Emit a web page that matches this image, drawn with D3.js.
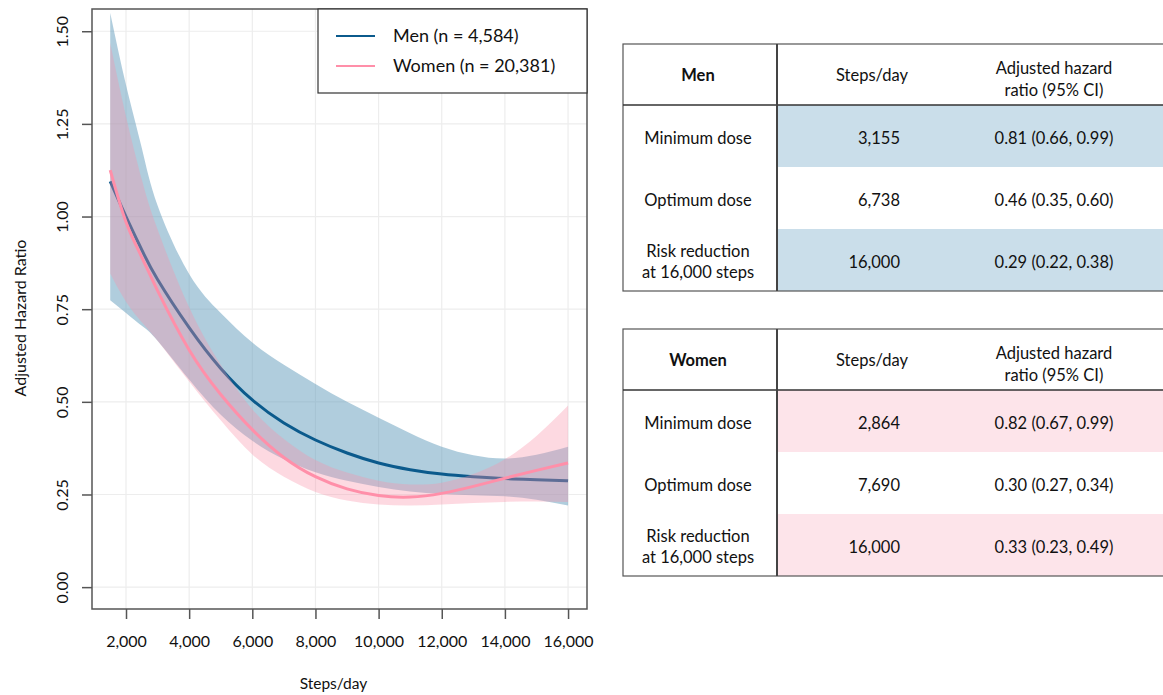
<!DOCTYPE html>
<html lang="en">
<head>
  <meta charset="UTF-8">
  <title>Steps/day and adjusted hazard ratio</title>
  <script src="https://d3js.org/d3.v7.min.js"></script>
  <style>
    body {
      margin: 0;
      padding: 0;
      background: #fff;
      font-family: Lato, "Open Sans", sans-serif;
    }
    svg text {
      fill: #111;
    }
  </style>
</head>
<body>
  <div id="chart"></div>

  <script>
    // curve data
    const steps = [1500, 2000, 2500, 3000, 4000, 5000, 6000, 7000, 8000, 9000, 10000, 11000, 12000, 13000, 14000, 15000, 16000];
    const menHR = [1.095, 1.000, 0.91, 0.83, 0.70, 0.59, 0.505, 0.443, 0.397, 0.362, 0.335, 0.317, 0.305, 0.298, 0.293, 0.290, 0.287];
    const menLower = [0.774, 0.74, 0.705, 0.665, 0.56, 0.465, 0.395, 0.345, 0.31, 0.287, 0.27, 0.258, 0.251, 0.248, 0.245, 0.236, 0.22];
    const menUpper = [1.549, 1.355, 1.185, 1.03, 0.845, 0.74, 0.66, 0.60, 0.548, 0.50, 0.457, 0.415, 0.379, 0.356, 0.347, 0.357, 0.379];
    const womenHR = [1.125, 0.985, 0.89, 0.80, 0.64, 0.52, 0.425, 0.35, 0.298, 0.265, 0.247, 0.243, 0.253, 0.272, 0.294, 0.315, 0.335];
    const womenLower = [0.846, 0.77, 0.715, 0.665, 0.555, 0.45, 0.358, 0.298, 0.257, 0.234, 0.223, 0.22, 0.223, 0.227, 0.23, 0.231, 0.23];
    const womenUpper = [1.468, 1.27, 1.10, 0.965, 0.755, 0.60, 0.48, 0.40, 0.343, 0.309, 0.287, 0.277, 0.282, 0.305, 0.345, 0.408, 0.49];

    const xTicks = [2000, 4000, 6000, 8000, 10000, 12000, 14000, 16000];
    const yTicks = [0, 0.25, 0.5, 0.75, 1.0, 1.25, 1.5];
    const legendLabels = ["Men (n = 4,584)", "Women (n = 20,381)"];

    // table data
    const rowLabels = [["Minimum dose"], ["Optimum dose"], ["Risk reduction", "at 16,000 steps"]];
    const menSteps = ["3,155", "6,738", "16,000"];
    const menAHR = ["0.81 (0.66, 0.99)", "0.46 (0.35, 0.60)", "0.29 (0.22, 0.38)"];
    const womenSteps = ["2,864", "7,690", "16,000"];
    const womenAHR = ["0.82 (0.67, 0.99)", "0.30 (0.27, 0.34)", "0.33 (0.23, 0.49)"];

    const width = 1163;
    const height = 695;
    const box = { left: 92, right: 587, top: 9, bottom: 609 };

    const blue = "#0b5a8c";
    const pink = "#ff8fa9";

    const svg = d3.select("#chart")
      .append("svg")
      .attr("width", width)
      .attr("height", height);

    const x = d3.scaleLinear().domain([923, 16600]).range([box.left, box.right]);
    const y = d3.scaleLinear().domain([-0.059, 1.56]).range([box.bottom, box.top]);

    // grid
    svg.append("g")
      .selectAll("line")
      .data(xTicks)
      .join("line")
      .attr("x1", d => x(d)).attr("x2", d => x(d))
      .attr("y1", box.top).attr("y2", box.bottom)
      .attr("stroke", "#ededed").attr("stroke-width", 1.2);
    svg.append("g")
      .selectAll("line")
      .data(yTicks)
      .join("line")
      .attr("x1", box.left).attr("x2", box.right)
      .attr("y1", d => y(d)).attr("y2", d => y(d))
      .attr("stroke", "#ededed").attr("stroke-width", 1.2);

    const band = (lo, hi) => d3.area()
      .x((d, i) => x(steps[i]))
      .y0((d, i) => y(lo[i]))
      .y1((d, i) => y(hi[i]))
      .curve(d3.curveNatural)(steps);

    const line = vals => d3.line()
      .x((d, i) => x(steps[i]))
      .y((d, i) => y(vals[i]))
      .curve(d3.curveNatural)(steps);

    svg.append("path")
      .attr("d", band(menLower, menUpper))
      .attr("fill", "rgb(97,155,187)")
      .attr("fill-opacity", 0.5);

    svg.append("path")
      .attr("d", line(menHR))
      .attr("fill", "none")
      .attr("stroke", blue)
      .attr("stroke-width", 3);

    svg.append("path")
      .attr("d", band(womenLower, womenUpper))
      .attr("fill", "rgb(249,146,169)")
      .attr("fill-opacity", 0.35);

    svg.append("path")
      .attr("d", line(womenHR))
      .attr("fill", "none")
      .attr("stroke", pink)
      .attr("stroke-width", 3);

    // frame
    svg.append("rect")
      .attr("x", box.left).attr("y", box.top)
      .attr("width", box.right - box.left)
      .attr("height", box.bottom - box.top)
      .attr("fill", "none")
      .attr("stroke", "#555")
      .attr("stroke-width", 1.5);

    // axes
    const xAxis = svg.append("g")
      .attr("transform", `translate(0,${box.bottom})`)
      .call(d3.axisBottom(x).tickValues(xTicks).tickFormat(d3.format(",")).tickSize(10).tickPadding(17));
    xAxis.select(".domain").remove();
    xAxis.selectAll("line").attr("stroke", "#555").attr("stroke-width", 1.5);
    xAxis.selectAll("text")
      .attr("font-family", "Lato, sans-serif")
      .attr("font-size", 16)
      .attr("fill", "#111");

    const yAxis = svg.append("g")
      .attr("transform", `translate(${box.left},0)`)
      .call(d3.axisLeft(y).tickValues(yTicks).tickFormat(d3.format(".2f")).tickSize(10));
    yAxis.select(".domain").remove();
    yAxis.selectAll("line").attr("stroke", "#555").attr("stroke-width", 1.5);
    yAxis.selectAll("text")
      .attr("x", 0).attr("y", 0).attr("dy", 0)
      .attr("transform", "translate(-24,0) rotate(-90)")
      .attr("text-anchor", "middle")
      .attr("font-family", "Lato, sans-serif")
      .attr("font-size", 16)
      .attr("fill", "#111");

    svg.append("text")
      .attr("x", x(8000) + 18)
      .attr("y", 689)
      .attr("text-anchor", "middle")
      .attr("font-size", 15.5)
      .text("Steps/day");

    svg.append("text")
      .attr("transform", `translate(26,${(box.top + box.bottom) / 2 + 9}) rotate(-90)`)
      .attr("text-anchor", "middle")
      .attr("font-size", 16)
      .text("Adjusted Hazard Ratio");

    // legend
    const legend = svg.append("g");
    legend.append("rect")
      .attr("x", 318).attr("y", box.top)
      .attr("width", box.right - 318).attr("height", 84)
      .attr("fill", "#fff")
      .attr("stroke", "#333")
      .attr("stroke-width", 1.2);
    const items = legend.selectAll("g.item")
      .data(legendLabels)
      .join("g")
      .attr("class", "item")
      .attr("transform", (d, i) => `translate(336,${36 + i * 30})`);
    items.append("line")
      .attr("x1", 0).attr("x2", 39)
      .attr("stroke", (d, i) => i === 0 ? blue : pink)
      .attr("stroke-width", 2);
    items.append("text")
      .attr("x", 57).attr("dy", "0.35em")
      .attr("font-size", 18)
      .text(d => d);

    // tables
    function drawTable(top, title, stepVals, hrVals, shade) {
      const g = svg.append("g").attr("transform", `translate(0,${top})`);
      const left = 623, right = 1175, divider = 777;
      const headH = 61, rowH = 62;
      const rowTop = i => headH + i * rowH;
      const fs = 16.5;

      g.selectAll("rect.shade")
        .data(stepVals)
        .join("rect")
        .attr("class", "shade")
        .attr("x", divider).attr("y", (d, i) => rowTop(i))
        .attr("width", right - divider).attr("height", rowH)
        .attr("fill", (d, i) => i === 1 ? "#fff" : shade);

      g.append("rect")
        .attr("x", left).attr("y", 0)
        .attr("width", right - left).attr("height", headH + 3 * rowH)
        .attr("fill", "none")
        .attr("stroke", "#555").attr("stroke-width", 1.2);
      g.append("line")
        .attr("x1", left).attr("x2", right)
        .attr("y1", headH).attr("y2", headH)
        .attr("stroke", "#333").attr("stroke-width", 1.5);
      g.append("line")
        .attr("x1", divider).attr("x2", divider)
        .attr("y1", 0).attr("y2", headH + 3 * rowH)
        .attr("stroke", "#444").attr("stroke-width", 2);

      g.append("text")
        .attr("x", 698).attr("y", 31).attr("dy", "0.35em")
        .attr("text-anchor", "middle")
        .attr("font-size", fs).attr("font-weight", "bold")
        .text(title);
      g.append("text")
        .attr("x", 872).attr("y", 31).attr("dy", "0.35em")
        .attr("text-anchor", "middle")
        .attr("font-size", fs)
        .text("Steps/day");
      g.append("text")
        .attr("x", 1054).attr("y", 24).attr("dy", "0.35em")
        .attr("text-anchor", "middle")
        .attr("font-size", fs)
        .text("Adjusted hazard");
      g.append("text")
        .attr("x", 1054).attr("y", 46).attr("dy", "0.35em")
        .attr("text-anchor", "middle")
        .attr("font-size", fs)
        .text("ratio (95% CI)");

      rowLabels.forEach((lines, i) => {
        const mid = rowTop(i) + rowH / 2 + 2;
        lines.forEach((t, j) => {
          g.append("text")
            .attr("x", 698)
            .attr("y", mid + (j - (lines.length - 1) / 2) * 21)
            .attr("dy", "0.35em")
            .attr("text-anchor", "middle")
            .attr("font-size", fs)
            .text(t);
        });
        g.append("text")
          .attr("x", 900).attr("y", mid).attr("dy", "0.35em")
          .attr("text-anchor", "end")
          .attr("font-size", fs)
          .text(stepVals[i]);
        g.append("text")
          .attr("x", 1054).attr("y", mid).attr("dy", "0.35em")
          .attr("text-anchor", "middle")
          .attr("font-size", fs)
          .text(hrVals[i]);
      });
    }

    drawTable(44, "Men", menSteps, menAHR, "#cadeea");
    drawTable(329, "Women", womenSteps, womenAHR, "#fde4ea");
  </script>
</body>
</html>
